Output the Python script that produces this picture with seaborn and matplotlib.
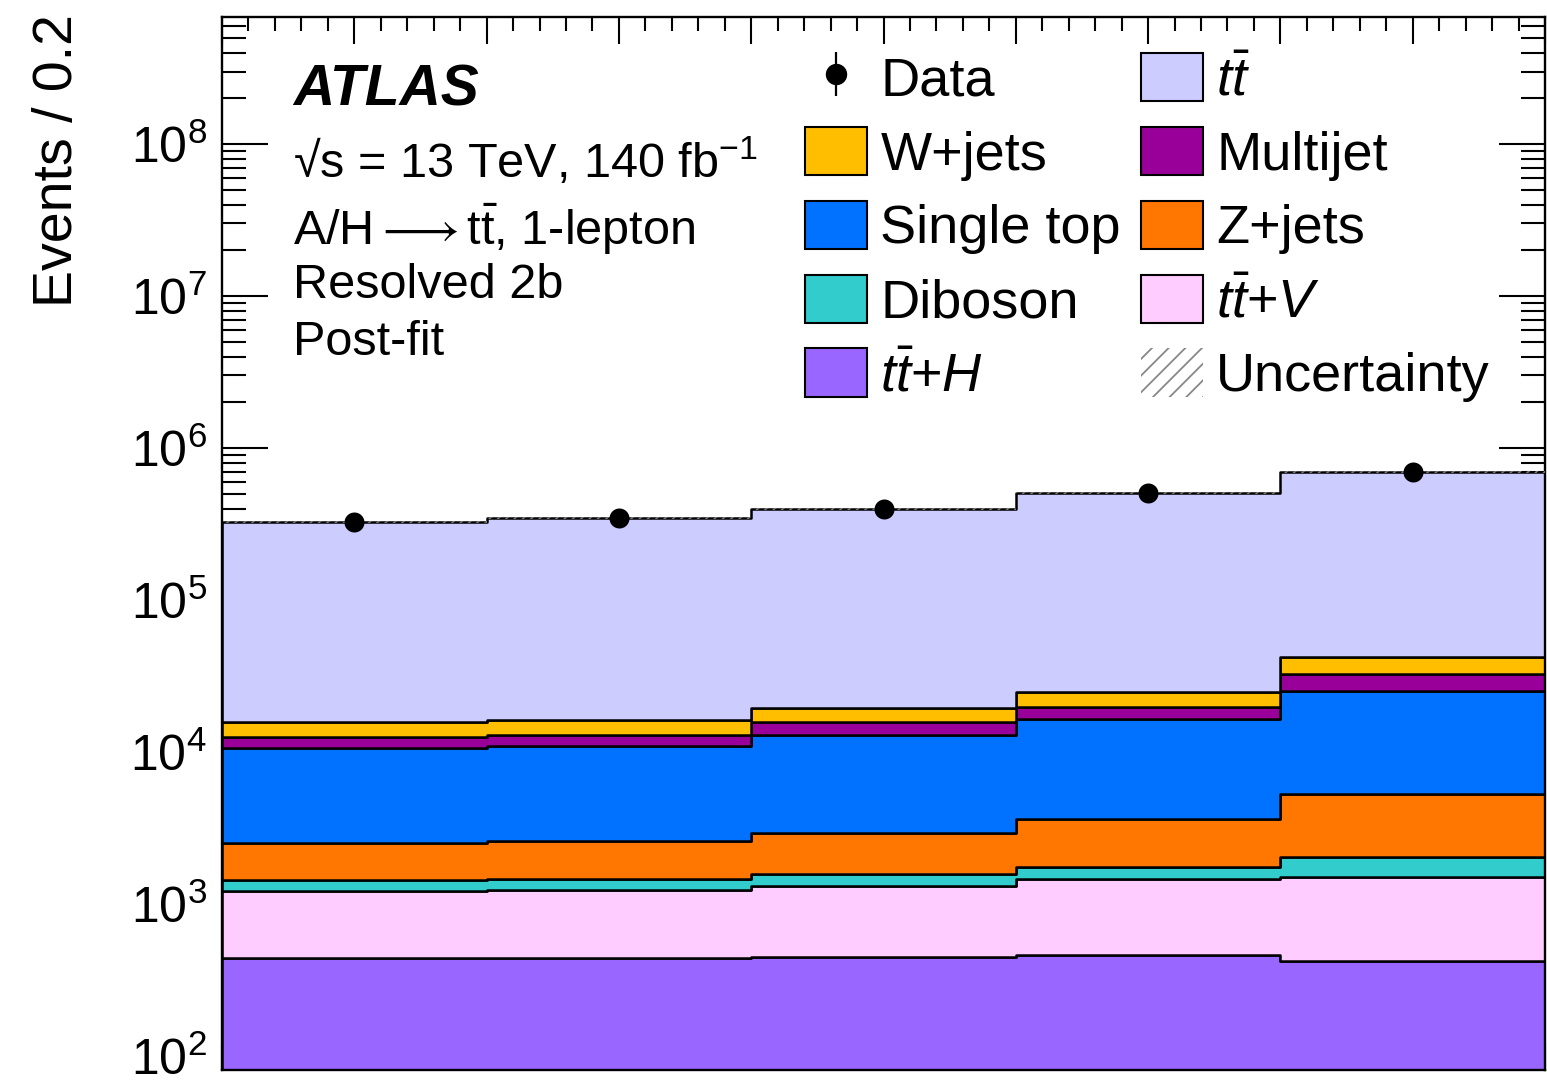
import numpy as np
import pandas as pd
import matplotlib
matplotlib.use("Agg")
import matplotlib.pyplot as plt
import seaborn as sns
from matplotlib.patches import Patch
from matplotlib.lines import Line2D
from matplotlib.legend_handler import HandlerTuple
from matplotlib.ticker import MultipleLocator, LogLocator, NullFormatter, FixedLocator

# ---- binning (discriminant, width 0.2) ----
bin_edges = [0.0, 0.2, 0.4, 0.6, 0.8, 1.0]

# ---- post-fit yields per bin ----
yields_ttbar     = [311200, 331500, 377400, 478600, 650000]
yields_wjets     = [3330, 3370, 3740, 5250, 9530]
yields_multijet  = [1930, 1940, 2880, 3270, 7240]
yields_singletop = [8040, 8350, 10020, 12800, 19910]
yields_zjets     = [1090, 1125, 1345, 1850, 3250]
yields_diboson   = [214, 233, 262, 306, 540]
yields_ttv       = [784, 793, 863, 993, 1080]
yields_tth       = [440, 443, 450, 460, 420]

data_events = [327000, 347800, 397000, 503500, 692000]
rel_uncertainty = [0.012, 0.012, 0.012, 0.013, 0.015]

# stacking order, top to bottom (seaborn puts the last hue level at the bottom)
process_names = ["ttbar", "W+jets", "Multijet", "Single top", "Z+jets", "Diboson", "ttV", "ttH"]
process_yields = [yields_ttbar, yields_wjets, yields_multijet, yields_singletop,
                  yields_zjets, yields_diboson, yields_ttv, yields_tth]
process_colors = ["#ccccff", "#ffbf00", "#990099", "#0072ff",
                  "#ff7700", "#33cccc", "#ffccff", "#9966ff"]
legend_labels = {
    "ttbar": r"$t\bar{t}$",
    "W+jets": "W+jets",
    "Multijet": "Multijet",
    "Single top": "Single top",
    "Z+jets": "Z+jets",
    "Diboson": "Diboson",
    "ttV": r"$t\bar{t}$$+V$",
    "ttH": r"$t\bar{t}$$+H$",
}

edges = np.array(bin_edges)
centers = 0.5 * (edges[:-1] + edges[1:])

rows = []
for name, ylds in zip(process_names, process_yields):
    for c, w in zip(centers, ylds):
        rows.append({"x": float(c), "w": float(w), "process": name})
df = pd.DataFrame(rows)

sns.set_theme(style="ticks")
plt.rcParams["font.family"] = ["Liberation Sans", "DejaVu Sans"]
plt.rcParams["mathtext.fontset"] = "custom"
plt.rcParams["mathtext.rm"] = "Liberation Sans"
plt.rcParams["mathtext.it"] = "Liberation Sans:italic"
plt.rcParams["mathtext.bf"] = "Liberation Sans:bold"
plt.rcParams["mathtext.fallback"] = "stixsans"
plt.rcParams["hatch.linewidth"] = 1.3
for key in ["text.color", "axes.labelcolor", "xtick.color", "ytick.color", "axes.edgecolor"]:
    plt.rcParams[key] = "black"

W, H = 1547, 1084
fig = plt.figure(figsize=(W / 100, H / 100), dpi=100)
ax = fig.add_axes([222 / W, 14 / H, 1323 / W, 1053 / H])

palette = dict(zip(process_names, process_colors))
sns.histplot(data=df, x="x", weights="w", hue="process", hue_order=process_names,
             palette=palette, multiple="stack", element="step", bins=list(bin_edges),
             edgecolor="black", linewidth=1.8, alpha=1, legend=False, ax=ax)

ax.set_yscale("log")

# uncertainty band on the total prediction
total = np.sum(np.array(process_yields), axis=0)
unc = np.array(rel_uncertainty)
lo = total * (1 - unc)
hi = total * (1 + unc)
ax.fill_between(edges, np.append(lo, lo[-1]), np.append(hi, hi[-1]), step="post",
                facecolor="none", edgecolor="#777777", hatch="////", linewidth=0, zorder=4)

# data
ax.errorbar(centers, data_events, yerr=np.sqrt(data_events), fmt="none",
            ecolor="black", elinewidth=1.5, zorder=5)
sns.scatterplot(x=centers, y=data_events, color="black", s=14.4 ** 2, linewidth=0,
                legend=False, ax=ax, zorder=6)

ax.set_xlim(0, 1)
ax.set_ylim(80.9, 6.85e8)

# axes styling
for sp in ax.spines.values():
    sp.set_linewidth(1.7)
    sp.set_color("black")
    sp.set_visible(True)
ax.xaxis.set_major_locator(MultipleLocator(0.1))
ax.xaxis.set_minor_locator(MultipleLocator(0.02))
ax.yaxis.set_major_locator(FixedLocator([1e2, 1e3, 1e4, 1e5, 1e6, 1e7, 1e8]))
ax.yaxis.set_minor_locator(LogLocator(base=10, subs=np.arange(2, 10), numticks=30))
ax.yaxis.set_minor_formatter(NullFormatter())
ax.set_yticklabels([r"$10^{%d}$" % k for k in range(2, 9)])
ax.tick_params(axis="both", which="both", direction="in", top=True, right=True,
               color="black", width=1.5)
ax.tick_params(axis="x", which="major", length=19.5, labelbottom=False)
ax.tick_params(axis="x", which="minor", length=10)
ax.tick_params(axis="y", which="major", length=33, labelsize=36, pad=11, labelcolor="black")
ax.tick_params(axis="y", which="minor", length=17)
ax.set_xlabel("")
ax.set_ylabel("Events / 0.2", fontsize=40, loc="top", color="black")
ax.yaxis.set_label_coords(-0.104, 1.003)
ax.grid(False)

# annotation block
def px(x, y):
    return x / W, 1 - y / H

fig.text(*px(293, 105), "ATLAS", fontsize=41, fontweight="bold", fontstyle="italic",
         va="baseline", ha="left")
fig.text(*px(293, 178), "\u221as = 13 TeV, 140 fb$^{-1}$",
         fontsize=35, va="baseline", ha="left")
fig.text(*px(293, 245), r"A/H$\longrightarrow$t$\bar{\mathrm{t}}$, 1-lepton",
         fontsize=35, va="baseline", ha="left")
fig.text(*px(293, 298), "Resolved 2b", fontsize=35, va="baseline", ha="left")
fig.text(*px(293, 355), "Post-fit", fontsize=35, va="baseline", ha="left")

# legend
data_handle = (Line2D([], [], marker="o", color="black", linestyle="none", markersize=14.4),
               Line2D([], [], marker="|", color="black", linestyle="none", markersize=31,
                      markeredgewidth=1.6))
patch = {n: Patch(facecolor=c, edgecolor="black", linewidth=1.5)
         for n, c in zip(process_names, process_colors)}
unc_handle = Patch(facecolor="none", edgecolor="#888888", hatch="//", linewidth=0)

handles = [data_handle, patch["W+jets"], patch["Single top"], patch["Diboson"], patch["ttH"],
           patch["ttbar"], patch["Multijet"], patch["Z+jets"], patch["ttV"], unc_handle]
labels = ["Data", legend_labels["W+jets"], legend_labels["Single top"],
          legend_labels["Diboson"], legend_labels["ttH"], legend_labels["ttbar"],
          legend_labels["Multijet"], legend_labels["Z+jets"], legend_labels["ttV"],
          "Uncertainty"]
ax.legend(handles, labels, ncol=2, loc="upper left",
          bbox_to_anchor=((805 - 222) / 1323, (1070 - 53) / 1053),
          frameon=False, fontsize=39, handlelength=1.15, handleheight=1.0,
          handletextpad=0.24, columnspacing=0.37, labelspacing=0.37,
          borderpad=0, borderaxespad=0,
          handler_map={tuple: HandlerTuple(ndivide=1)})

fig.savefig("out.png", dpi=100)
